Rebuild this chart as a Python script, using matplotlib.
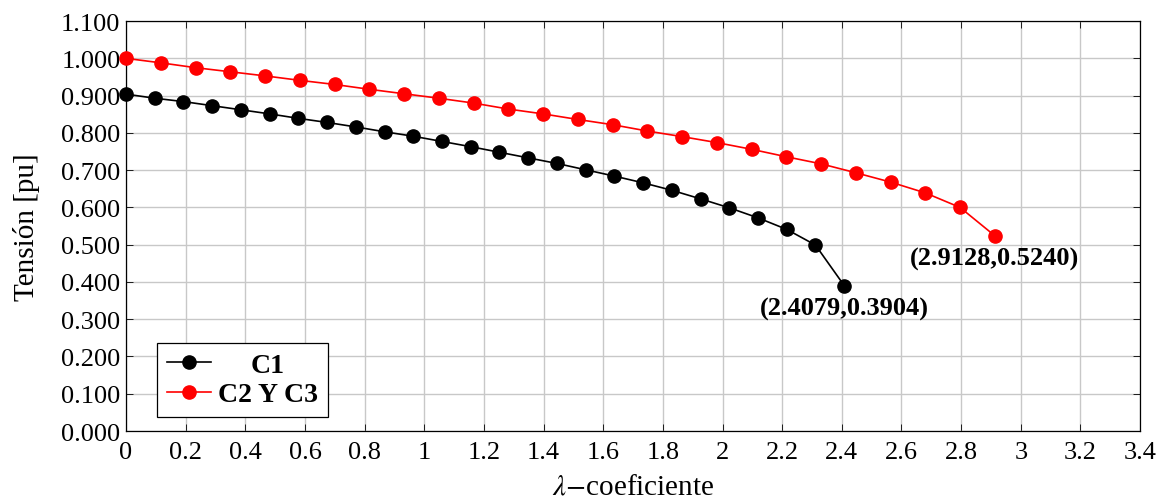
import types
import matplotlib
matplotlib.use('Agg')
import matplotlib.pyplot as plt
from matplotlib.ticker import FuncFormatter, MultipleLocator
from matplotlib.transforms import Bbox

plt.rcParams['font.family'] = ['Liberation Serif', 'DejaVu Serif']
plt.rcParams['mathtext.fontset'] = 'stix'

# curva C1
lam_c1 = [0.0, 0.0963, 0.1926, 0.2889, 0.3853, 0.4816, 0.5779, 0.6742, 0.7705,
          0.8668, 0.9632, 1.0595, 1.1558, 1.2521, 1.3484, 1.4447, 1.5411, 1.6374,
          1.7337, 1.8300, 1.9263, 2.0226, 2.1190, 2.2153, 2.3116, 2.4079]
v_c1 = [0.904, 0.893, 0.884, 0.873, 0.862, 0.851, 0.839, 0.828, 0.816, 0.803,
        0.791, 0.777, 0.763, 0.748, 0.733, 0.718, 0.701, 0.684, 0.666, 0.646,
        0.623, 0.599, 0.572, 0.541, 0.499, 0.3904]

# curva C2 Y C3
lam_c23 = [0.0, 0.1165, 0.2330, 0.3495, 0.4660, 0.5826, 0.6991, 0.8156, 0.9321,
           1.0486, 1.1651, 1.2816, 1.3981, 1.5147, 1.6312, 1.7477, 1.8642, 1.9807,
           2.0972, 2.2137, 2.3302, 2.4468, 2.5633, 2.6798, 2.7963, 2.9128]
v_c23 = [1.000, 0.988, 0.975, 0.964, 0.953, 0.941, 0.930, 0.917, 0.905, 0.893,
         0.880, 0.864, 0.851, 0.836, 0.822, 0.805, 0.790, 0.774, 0.756, 0.736,
         0.717, 0.693, 0.668, 0.639, 0.600, 0.5240]

fig = plt.figure(figsize=(11.68, 5.02), dpi=100)
ax = fig.add_axes([0.1079, 0.1394, 0.8682, 0.8166])

ax.plot(lam_c1, v_c1, color='black', marker='o', markersize=9.5, linewidth=1.2,
        label='C1', clip_on=False, zorder=3)
ax.plot(lam_c23, v_c23, color='red', marker='o', markersize=9.5, linewidth=1.2,
        label='C2 Y C3', clip_on=False, zorder=3)

# etiquetas de los puntos finales
ax.annotate('(%.4f,%.4f)' % (lam_c1[-1], v_c1[-1]), (lam_c1[-1], v_c1[-1]),
            xytext=(0, -8), textcoords='offset points', ha='center', va='top',
            fontsize=19, fontweight='bold')
ax.annotate('(%.4f,%.4f)' % (lam_c23[-1], v_c23[-1]), (lam_c23[-1], v_c23[-1]),
            xytext=(0, -8), textcoords='offset points', ha='center', va='top',
            fontsize=19, fontweight='bold')

ax.set_xlim(0, 3.4)
ax.set_ylim(0, 1.1)
ax.xaxis.set_major_locator(MultipleLocator(0.2))
ax.yaxis.set_major_locator(MultipleLocator(0.1))
ax.xaxis.set_major_formatter(FuncFormatter(lambda v, p: '%g' % round(v, 2)))
ax.yaxis.set_major_formatter(FuncFormatter(lambda v, p: '%.3f' % v))
ax.tick_params(direction='in', top=True, right=True, labelsize=19, length=5,
               width=0.6)
ax.tick_params(axis='x', pad=7)
ax.tick_params(axis='y', pad=4)
ax.grid(True, color='#c8c8c8', linewidth=1.0)
ax.set_axisbelow(True)
for s in ax.spines.values():
    s.set_linewidth(0.9)

ax.set_xlabel(r'$\lambda$$-$coeficiente', fontsize=21, labelpad=8)
ax.set_ylabel('Tensión [pu]', fontsize=21, labelpad=15)

leg = ax.legend(loc='lower left', bbox_to_anchor=(0.0305, 0.034), fancybox=False,
                edgecolor='black', framealpha=1, prop={'size': 20, 'weight': 'bold'},
                handlelength=1.6, borderpad=0.35, labelspacing=0.15, handletextpad=0.25,
                borderaxespad=0)
leg.get_frame().set_linewidth(0.9)

# texto de la leyenda centrado como en pgfplots
rows = leg._legend_handle_box.get_children()[0].get_children()
tb_c1 = rows[0].get_children()[1]
tb_c23 = rows[1].get_children()[1]
tb_c1._text.set_ha('center')
_orig_bbox = tb_c1.get_bbox


def _centered_bbox(self, renderer):
    b = _orig_bbox(renderer)
    w = tb_c23.get_bbox(renderer).width
    return Bbox.from_bounds(-w / 2, b.y0, w, b.height)


tb_c1.get_bbox = types.MethodType(_centered_bbox, tb_c1)

fig.savefig('out.png', dpi=100)
